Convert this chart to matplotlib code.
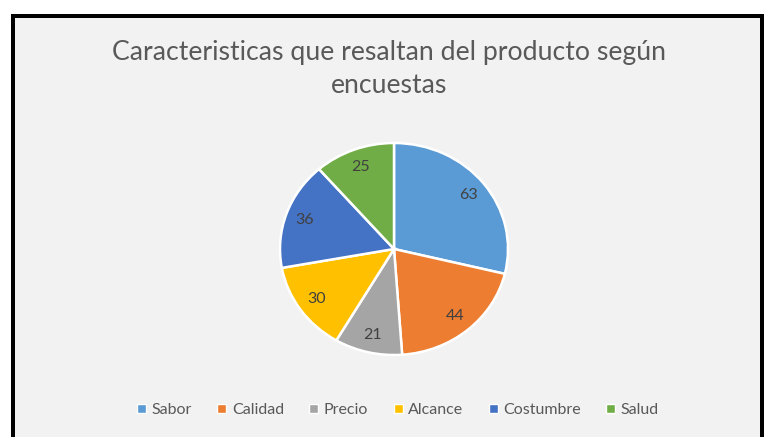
import matplotlib
matplotlib.use('Agg')
import matplotlib.pyplot as plt
from matplotlib.patches import Rectangle

# data
categories = ['Sabor', 'Calidad', 'Precio', 'Alcance', 'Costumbre', 'Salud']
values = [63, 44, 21, 30, 36, 25]
colors = ['#5B9BD5', '#ED7D31', '#A5A5A5', '#FFC000', '#4472C4', '#70AD47']
title = 'Caracteristicas que resaltan del producto según\nencuestas'

W, H = 764, 437
plt.rcParams['font.family'] = ['Lato', 'DejaVu Sans']

fig = plt.figure(figsize=(W / 100, H / 100), dpi=100)
fig.patch.set_facecolor('white')

# black frame + grey chart area (frame cut at right/bottom like the screenshot)
fig.patches.append(Rectangle((11 / W, 0), (W - 11) / W, (H - 14) / H,
                             transform=fig.transFigure, facecolor='black',
                             edgecolor='none', zorder=-2))
fig.patches.append(Rectangle((15 / W, 0), (W - 15 - 4) / W, (H - 18) / H,
                             transform=fig.transFigure, facecolor='#f2f2f2',
                             edgecolor='none', zorder=-1))

fig.text(389 / W, 1 - 69 / H, title, ha='center', va='center',
         fontsize=19.2, color='#595959', linespacing=1.4)

# pie is a bit wider than tall in the reference
cx, cy, rx, ry = 394, 249, 114, 106
ax = fig.add_axes([(cx - rx) / W, 1 - (cy + ry) / H, 2 * rx / W, 2 * ry / H])
ax.patch.set_visible(False)
wedges, texts = ax.pie(values, colors=colors, startangle=90, counterclock=False,
                       labels=[str(v) for v in values], labeldistance=0.83,
                       wedgeprops=dict(edgecolor='white', linewidth=1.8))
for t in texts:
    t.set_color('#404040')
    t.set_fontsize(11.5)
    t.set_ha('center')
    t.set_va('center')
ax.set_aspect('auto')
ax.set_xlim(-1.0, 1.0)
ax.set_ylim(-1.0, 1.0)
ax.axis('off')

leg = fig.legend(wedges, categories, loc='center', bbox_to_anchor=(398 / W, 1 - 410 / H),
                 ncol=6, frameon=False, fontsize=11.5, labelcolor='#595959',
                 handlelength=0.55, handleheight=0.55, handletextpad=0.35,
                 columnspacing=1.6)
for h in leg.legend_handles:
    h.set_edgecolor('white')
    h.set_linewidth(1.0)

fig.savefig('out.png', dpi=100, facecolor=fig.get_facecolor())
